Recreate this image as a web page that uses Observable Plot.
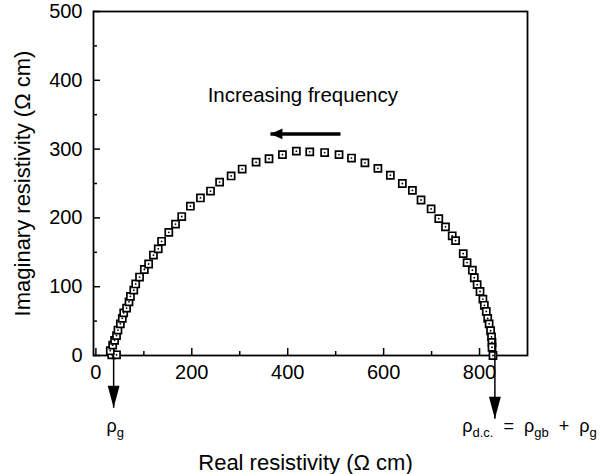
<!DOCTYPE html>
<html><head><meta charset="utf-8">
<script src="https://cdn.jsdelivr.net/npm/d3@7"></script>
<script src="https://cdn.jsdelivr.net/npm/@observablehq/plot@0.6"></script>
<style>
body{margin:0;background:#fff}
svg text{white-space:pre}
</style>
</head><body><div id="chart"></div>
<script>
// Data
const realRes = [33, 43, 30, 35, 39, 43, 46, 51, 55, 58, 64, 69, 72, 79, 83, 91, 101, 110, 120, 130,
  137, 152, 166, 179, 197, 218, 239, 258, 282, 305, 334, 361, 389, 418, 446, 477, 507, 533, 561, 588,
  614, 639, 660, 678, 699, 715, 729, 743, 750, 766, 774, 785, 789, 795, 801, 807, 810, 814, 817, 820,
  823, 825, 826, 826, 828];
const imagRes = [1, 1, 7, 15, 22, 29, 37, 46, 54, 62, 69, 78, 86, 95, 104, 114, 125, 133, 146, 155,
  166, 179, 191, 202, 217, 229, 239, 252, 261, 271, 281, 286, 292, 297, 296, 295, 292, 287, 280, 272,
  262, 250, 240, 226, 213, 199, 187, 174, 167, 148, 135, 124, 113, 103, 93, 82, 73, 64, 54, 46,
  36, 27, 19, 12, 0];
const xMajorTicks = [0, 200, 400, 600, 800];
const xMinorTicks = [100, 300, 500, 700];
const yMajorTicks = [0, 100, 200, 300, 400, 500];
const yMinorTicks = [50, 150, 250, 350, 450];
const xTitle = "Real resistivity (Ω cm)";
const yTitle = "Imaginary resistivity (Ω cm)";
const arrowText = "Increasing frequency";
const rhoLabels = ["ρ_{g}", "ρ_{d.c.}  =  ρ_{gb}  +  ρ_{g}"];
const rhoValues = [37, 832];

const points = realRes.map((x, i) => ({x, y: imagRes[i]}));

// annotation geometry (data coordinates)
const downArrows = [
  {x: rhoValues[0], y1: 0, y2: -76},
  {x: rhoValues[1], y1: 25, y2: -92}
];
const freqArrow = {x1: 510, x2: 364, y: 322};
const rhoLabelPos = [{x: 22, y: -103, text: rhoLabels[0]}, {x: 764, y: -103, text: rhoLabels[1]}];

const downHead = {draw(ctx, size) { const r = Math.sqrt(size / Math.PI);
  ctx.moveTo(0, 0); ctx.lineTo(-0.27 * r, -r); ctx.lineTo(0.27 * r, -r); ctx.closePath(); }};
const leftHead = {draw(ctx, size) { const r = Math.sqrt(size / Math.PI);
  ctx.moveTo(0, 0); ctx.lineTo(r, -0.45 * r); ctx.lineTo(r, 0.45 * r); ctx.closePath(); }};

const FONT = "'Liberation Sans', Arial, Helvetica, sans-serif";

const plot = Plot.plot({
  width: 604, height: 474,
  marginLeft: 93, marginRight: 77, marginTop: 11, marginBottom: 119,
  style: {fontFamily: FONT, fontSize: "20px", color: "black", background: "white"},
  x: {domain: [-5, 900]},
  y: {domain: [0, 500]},
  marks: [
    Plot.frame({stroke: "black", strokeWidth: 1.8}),
    Plot.axisX(xMajorTicks, {tickSize: 0, tickPadding: 9, label: null, fontSize: 20}),
    Plot.axisY(yMajorTicks, {tickSize: 0, tickPadding: 11, label: null, fontSize: 20}),
    Plot.tickX(xMajorTicks, {x: d => d, insetTop: 337, strokeWidth: 1.5}),
    Plot.tickX(xMinorTicks, {x: d => d, insetTop: 340, strokeWidth: 1.5}),
    Plot.tickY(yMajorTicks, {y: d => d, insetRight: 427, strokeWidth: 1.5}),
    Plot.tickY(yMinorTicks, {y: d => d, insetRight: 430, strokeWidth: 1.5}),
    // data points: open squares with a centre dot
    Plot.dot(points, {x: "x", y: "y", symbol: "square", r: 4, fill: "white", stroke: "black", strokeWidth: 1.7}),
    Plot.dot(points, {x: "x", y: "y", r: 0.9, fill: "black"}),
    // down arrows
    Plot.link(downArrows, {x1: "x", x2: "x", y1: "y1", y2: "y2", stroke: "black", strokeWidth: 1.5}),
    Plot.dot(downArrows, {x: "x", y: "y2", symbol: downHead, r: 22, fill: "black"}),
    // increasing frequency arrow
    Plot.link([freqArrow], {x1: "x1", x2: "x2", y1: "y", y2: "y", stroke: "black", strokeWidth: 3.5}),
    Plot.dot([freqArrow], {x: "x2", y: "y", symbol: leftHead, r: 12, fill: "black"}),
    Plot.text([arrowText], {x: 233, y: 378, text: d => d, textAnchor: "start", fontSize: 20.5}),
    // rho labels
    Plot.text(rhoLabelPos, {x: "x", y: "y", text: "text", textAnchor: "start", fontSize: 18}),
    // axis titles
    Plot.text([xTitle], {frameAnchor: "bottom", dy: 107, dx: -5, text: d => d, textAnchor: "middle", lineAnchor: "middle", fontSize: 22}),
    Plot.text([yTitle], {frameAnchor: "left", dx: -71, rotate: -90, text: d => d, textAnchor: "middle", lineAnchor: "middle", fontSize: 22})
  ]
});

// subscripts
d3.select(plot).selectAll("text").each(function() {
  const t = this.textContent;
  if (!t.includes("_{")) return;
  const sel = d3.select(this);
  sel.text(null);
  const parts = t.split(/(_\{[^}]*\})/).filter(p => p);
  let shifted = false;
  for (const p of parts) {
    if (p.startsWith("_{")) {
      sel.append("tspan").attr("font-size", 13).attr("dy", shifted ? 0 : 5).text(p.slice(2, -1));
      shifted = true;
    } else {
      sel.append("tspan").attr("dy", shifted ? -5 : 0).text(p);
      shifted = false;
    }
  }
});

document.getElementById("chart").appendChild(plot);
</script>
</body></html>
